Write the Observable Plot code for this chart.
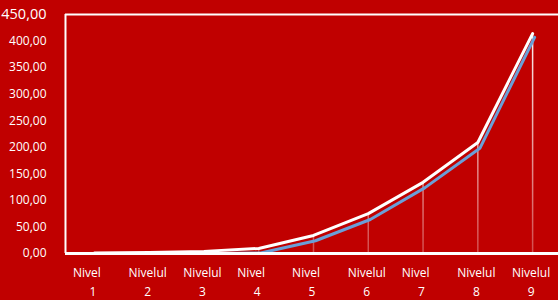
<!DOCTYPE html>
<html>
<head>
<meta charset="utf-8">
<script src="https://cdn.jsdelivr.net/npm/d3@7"></script>
<script src="https://cdn.jsdelivr.net/npm/@observablehq/plot@0.6"></script>
<style>
  html, body { margin: 0; padding: 0; background: #C00000; }
  #chart svg { display: block; }
</style>
</head>
<body>
<div id="chart"></div>
<script>
const levels = [1, 2, 3, 4, 5, 6, 7, 8, 9];
const labelWords = ["Nivel", "Nivelul", "Nivelul", "Nivel", "Nivel", "Nivelul", "Nivel", "Nivelul", "Nivelul"];
const seriesWhite = [1, 2, 4, 9.5, 34, 75, 134, 209, 414];
const seriesBlue = [0, 0, 0, 1, 24, 64, 124, 198, 407];
const yTicks = [0, 50, 100, 150, 200, 250, 300, 350, 400, 450];

const white = levels.map((l, i) => ({level: l, value: seriesWhite[i]}));
const blue = levels.map((l, i) => ({level: l, value: seriesBlue[i]}));
const labels = levels.map((l, i) => ({level: l, word: labelWords[i]}));
const fmt = d => d.toFixed(2).replace(".", ",");

const chart = Plot.plot({
  width: 558,
  height: 300,
  marginLeft: 65,
  marginRight: 0,
  marginTop: 14,
  marginBottom: 47,
  style: {background: "#C00000", fontFamily: "'Open Sans', sans-serif", color: "white"},
  x: {type: "band", domain: levels, padding: 0, round: false, axis: null},
  y: {domain: [0, 450], axis: null},
  marks: [
    Plot.ruleX(white.filter(d => d.value > 5), {x: "level", y1: 0, y2: "value", dx: 1.5, stroke: "white", strokeWidth: 1.5, className: "drop"}),
    Plot.line(blue, {x: "level", y: "value", dx: 3.5, stroke: "#6A9FD8", strokeWidth: 3}),
    Plot.line(white, {x: "level", y: "value", dx: 1.5, stroke: "white", strokeWidth: 3}),
    Plot.ruleY([450], {stroke: "white", strokeWidth: 2}),
    Plot.ruleY([0], {stroke: "white", strokeWidth: 3}),
    Plot.ruleX([levels[0]], {x: d => d, dx: -27.4, y1: 0, y2: 450, stroke: "white", strokeWidth: 2}),
    Plot.text(yTicks, {
      y: d => d, text: fmt, frameAnchor: "left", textAnchor: "end", dx: -19,
      fill: "white", fontSize: d => d === 450 ? 14.5 : 12
    }),
    Plot.text(labels.filter(d => d.word === "Nivel"), {
      x: "level", text: "word", frameAnchor: "bottom", lineAnchor: "top", dy: 15, dx: -6,
      fill: "white", fontSize: 12
    }),
    Plot.text(labels.filter(d => d.word !== "Nivel"), {
      x: "level", text: "word", frameAnchor: "bottom", lineAnchor: "top", dy: 15,
      fill: "white", fontSize: 12
    }),
    Plot.text(labels, {
      x: "level", text: d => String(d.level), frameAnchor: "bottom", lineAnchor: "top", dy: 34,
      fill: "white", fontSize: 12
    })
  ]
});
const svg = d3.select(chart);
svg.insert("defs", ":first-child").html(`<linearGradient id="dropGrad" gradientUnits="userSpaceOnUse" x1="0" y1="30" x2="0" y2="253">
  <stop offset="0" stop-color="white" stop-opacity="0.95"/>
  <stop offset="1" stop-color="white" stop-opacity="0.3"/>
</linearGradient>`);
svg.selectAll("g.drop").attr("stroke", null);
svg.selectAll("g.drop line").attr("stroke", "url(#dropGrad)");
document.getElementById("chart").appendChild(chart);
</script>
</body>
</html>
